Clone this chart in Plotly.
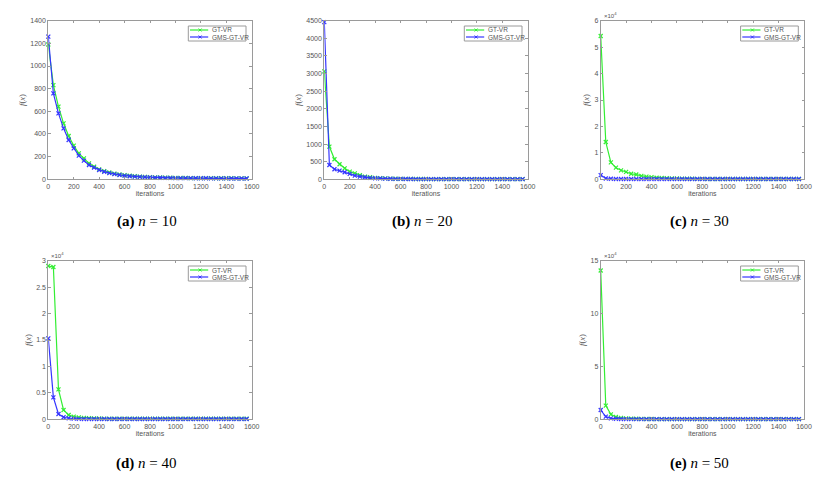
import plotly.graph_objects as go

# 迭代次数 (每 40 次记录一次)
iterations = list(range(0, 1600, 40))

# n = 10
gt_vr_n10 = [1190, 832, 641, 494, 382, 297, 229, 185, 141, 112, 88, 72, 60, 50, 42, 36, 31, 27, 24, 21,
             19, 17, 16, 15, 14, 13, 12, 12, 11, 11, 10, 10, 10, 9, 9, 9, 9, 8, 8, 8]
gms_n10 = [1260, 759, 582, 450, 347, 273, 209, 165, 126, 103, 82, 67, 55, 45, 38, 32, 27, 24, 21, 19,
           17, 15, 14, 13, 12, 11, 11, 10, 10, 9, 9, 9, 8, 8, 8, 8, 7, 7, 7, 7]

# n = 20
gt_vr_n20 = [3060, 928, 568, 426, 312, 218, 170, 114, 76, 57, 42, 32, 25, 20, 16, 13, 11, 10, 9, 8,
             8, 7, 7, 7, 6, 6, 6, 6, 5, 5, 5, 5, 5, 5, 5, 4, 4, 4, 4, 4]
gms_n20 = [4460, 407, 284, 246, 199, 152, 104, 76, 57, 42, 30, 24, 19, 15, 12, 10, 9, 8, 7, 7,
           6, 6, 6, 5, 5, 5, 5, 5, 4, 4, 4, 4, 4, 4, 4, 4, 3, 3, 3, 3]

# n = 30 (x1e4)
gt_vr_n30 = [5.42, 1.41, 0.64, 0.44, 0.34, 0.28, 0.21, 0.18, 0.13, 0.10, 0.08, 0.06, 0.05, 0.04, 0.03, 0.03,
             0.02, 0.02, 0.02, 0.015, 0.015, 0.01, 0.01, 0.01, 0.01, 0.01, 0.01, 0.01, 0.01, 0.01,
             0.01, 0.01, 0.01, 0.01, 0.01, 0.01, 0.01, 0.01, 0.01, 0.01]
gms_n30 = [0.16, 0.03, 0.02, 0.01, 0.01, 0.01, 0.01, 0.01, 0.01, 0.01, 0.01, 0.01, 0.01, 0.01, 0.01, 0.01,
           0.01, 0.01, 0.01, 0.01, 0.01, 0.01, 0.01, 0.01, 0.01, 0.01, 0.01, 0.01, 0.01, 0.01,
           0.01, 0.01, 0.01, 0.01, 0.01, 0.01, 0.01, 0.01, 0.01, 0.01]

# n = 40 (x1e4)
gt_vr_n40 = [2.90, 2.88, 0.567, 0.176, 0.082, 0.05, 0.035, 0.028, 0.022, 0.018, 0.015, 0.012, 0.01, 0.01,
             0.01, 0.01, 0.01, 0.01, 0.01, 0.01, 0.01, 0.01, 0.01, 0.01, 0.01, 0.01, 0.01, 0.01,
             0.01, 0.01, 0.01, 0.01, 0.01, 0.01, 0.01, 0.01, 0.01, 0.01, 0.01, 0.01]
gms_n40 = [1.53, 0.416, 0.10, 0.038, 0.02, 0.012, 0.008, 0.006, 0.005, 0.005, 0.005, 0.005, 0.005, 0.005,
           0.005, 0.005, 0.005, 0.005, 0.005, 0.005, 0.005, 0.005, 0.005, 0.005, 0.005, 0.005, 0.005,
           0.005, 0.005, 0.005, 0.005, 0.005, 0.005, 0.005, 0.005, 0.005, 0.005, 0.005, 0.005, 0.005]

# n = 50 (x1e4)
gt_vr_n50 = [14.07, 1.29, 0.47, 0.22, 0.13, 0.09, 0.07, 0.05, 0.04, 0.03, 0.03, 0.02, 0.02, 0.02, 0.02,
             0.02, 0.02, 0.02, 0.02, 0.02, 0.02, 0.02, 0.02, 0.02, 0.02, 0.02, 0.02, 0.02, 0.02,
             0.02, 0.02, 0.02, 0.02, 0.02, 0.02, 0.02, 0.02, 0.02, 0.02, 0.02]
gms_n50 = [0.88, 0.25, 0.09, 0.05, 0.03, 0.02, 0.02, 0.02, 0.02, 0.02, 0.02, 0.02, 0.02, 0.02, 0.02,
           0.02, 0.02, 0.02, 0.02, 0.02, 0.02, 0.02, 0.02, 0.02, 0.02, 0.02, 0.02, 0.02, 0.02,
           0.02, 0.02, 0.02, 0.02, 0.02, 0.02, 0.02, 0.02, 0.02, 0.02, 0.02]

series_names = ["GT-VR", "GMS-GT-VR"]
captions = ["(a)", "(b)", "(c)", "(d)", "(e)"]
n_values = [10, 20, 30, 40, 50]
y_max = [1400, 4500, 6, 3, 15]
y_dtick = [200, 500, 1, 0.5, 5]
scaled = [False, False, True, True, True]

COLORS = {"gt": "#33ee33", "gms": "#3535ff", "axis": "#9a9a9a", "tick": "#555555"}
FONT = "Liberation Sans"

W, H = 824, 477
# 每个子图的像素框 (左, 右, 上, 下)
BOXES = [
    (48.3, 251.7, 20.7, 179.3),
    (324.3, 527.7, 20.7, 179.3),
    (600.7, 804.0, 20.7, 179.3),
    (48.3, 251.7, 260.7, 419.3),
    (600.7, 804.0, 260.7, 419.3),
]
CAPTION_Y = [221, 221, 221, 463, 463]

series = [
    (gt_vr_n10, gms_n10),
    (gt_vr_n20, gms_n20),
    (gt_vr_n30, gms_n30),
    (gt_vr_n40, gms_n40),
    (gt_vr_n50, gms_n50),
]


def px(x):
    return x / W


def py(y):
    return 1 - y / H


fig = go.Figure()
annotations = []
shapes = []
layout = {}

for i, ((gt, gms), box) in enumerate(zip(series, BOXES)):
    k = i + 1
    sfx = "" if k == 1 else str(k)
    left, right, top, bottom = box

    colors = [COLORS["gt"], COLORS["gms"]]
    for name, vals, color in zip(series_names, (gt, gms), colors):
        fig.add_trace(
            go.Scatter(
                x=iterations,
                y=vals,
                name=name,
                mode="lines+markers",
                line=dict(color=color, width=1.2),
                marker=dict(symbol="x-thin-open", size=4, line=dict(color=color, width=1.2)),
                xaxis=f"x{sfx}",
                yaxis=f"y{sfx}",
                showlegend=False,
                cliponaxis=False,
            )
        )

    axis_common = dict(
        showline=True,
        linecolor=COLORS["axis"],
        linewidth=1,
        mirror="allticks",
        ticks="inside",
        ticklen=2.5,
        tickcolor=COLORS["axis"],
        showgrid=False,
        zeroline=False,
        automargin=False,
        tickfont=dict(size=7, color=COLORS["tick"], family=FONT),
    )
    layout[f"xaxis{sfx}"] = dict(
        axis_common,
        domain=[px(left), px(right)],
        anchor=f"y{sfx}",
        range=[0, 1600],
        dtick=200,
        title=dict(text="iterations", font=dict(size=7, color=COLORS["tick"], family=FONT), standoff=2),
    )
    layout[f"yaxis{sfx}"] = dict(
        axis_common,
        domain=[py(bottom), py(top)],
        anchor=f"x{sfx}",
        range=[0, y_max[i]],
        dtick=y_dtick[i],
        title=dict(text="<i>f</i>(<i>x</i>)", font=dict(size=8.5, color=COLORS["tick"], family="Liberation Serif"),
                   standoff=3),
    )

    # 图例 (MATLAB 风格的小框)
    shapes.append(dict(type="rect", xref="paper", yref="paper",
                       x0=px(right - 63.4), x1=px(right - 5.7), y0=py(top + 20.3), y1=py(top + 5.3),
                       line=dict(color=COLORS["axis"], width=1), fillcolor="white", layer="above"))
    for j, (name, color) in enumerate(zip(series_names, colors)):
        yy = top + 9.3 + 7 * j
        shapes.append(dict(type="line", xref="paper", yref="paper",
                           x0=px(right - 61.7), x1=px(right - 43.5), y0=py(yy), y1=py(yy),
                           line=dict(color=color, width=1.2), layer="above"))
        cx = right - 51.6
        for dx0, dy0, dx1, dy1 in [(-1.5, -1.5, 1.5, 1.5), (-1.5, 1.5, 1.5, -1.5)]:
            shapes.append(dict(type="line", xref="paper", yref="paper",
                               x0=px(cx + dx0), x1=px(cx + dx1), y0=py(yy + dy0), y1=py(yy + dy1),
                               line=dict(color=color, width=1), layer="above"))
        annotations.append(dict(text=name, x=px(right - 42), y=py(yy), xref="paper", yref="paper",
                                xanchor="left", yanchor="middle", showarrow=False,
                                font=dict(size=6.5, color=COLORS["tick"], family=FONT)))

    if scaled[i]:
        annotations.append(
            dict(
                text="×10<sup>4</sup>",
                x=px(left), y=py(top),
                xref="paper", yref="paper",
                xanchor="left", yanchor="bottom",
                xshift=1,
                showarrow=False,
                font=dict(size=6, color=COLORS["tick"], family=FONT),
            )
        )

    annotations.append(
        dict(
            text=f"<b>{captions[i]}</b> <i>n</i> = {n_values[i]}",
            x=px((left + right) / 2) - 0.004,
            y=py(CAPTION_Y[i]),
            xref="paper", yref="paper",
            xanchor="center", yanchor="middle",
            showarrow=False,
            font=dict(size=15, color="black", family="Liberation Serif"),
        )
    )

fig.update_layout(
    **layout,
    width=W,
    height=H,
    margin=dict(l=0, r=0, t=0, b=0),
    paper_bgcolor="white",
    plot_bgcolor="white",
    annotations=annotations,
    shapes=shapes,
    showlegend=False,
)

# 去掉页面默认的 body 外边距, 让图正好占满窗口
fig.write_html(
    "out.html",
    config={"displayModeBar": False},
    post_script="document.body.style.margin = '0px';",
)
